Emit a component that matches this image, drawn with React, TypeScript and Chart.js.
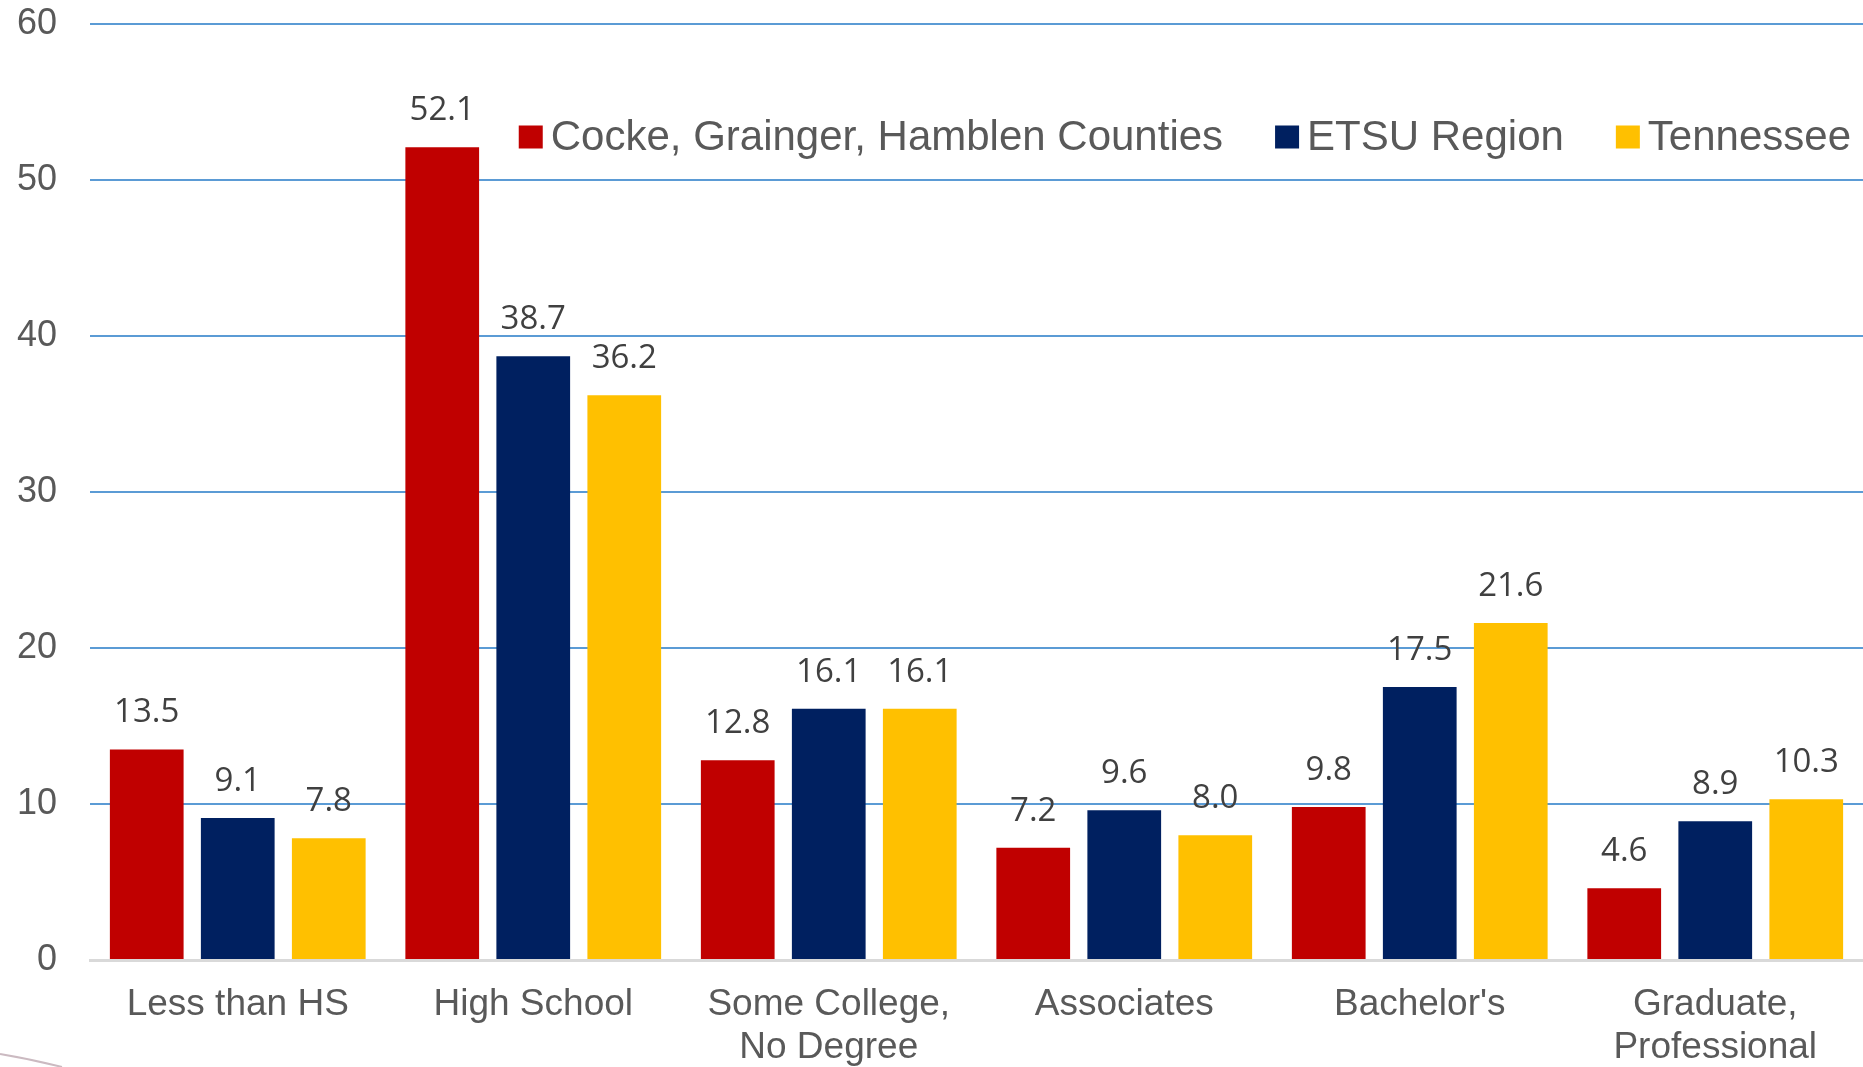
import React, { useEffect, useRef } from "react";
import { Chart, registerables } from "chart.js";

Chart.register(...registerables);

const categories: (string | string[])[] = [
  "Less than HS",
  "High School",
  ["Some College,", "No Degree"],
  "Associates",
  "Bachelor's",
  ["Graduate,", "Professional"],
];
const seriesNames = ["Cocke, Grainger, Hamblen Counties", "ETSU Region", "Tennessee"];
const cockeValues = [13.5, 52.1, 12.8, 7.2, 9.8, 4.6];
const etsuValues = [9.1, 38.7, 16.1, 9.6, 17.5, 8.9];
const tennesseeValues = [7.8, 36.2, 16.1, 8.0, 21.6, 10.3];
const seriesColors = ["#C00000", "#002060", "#FFC000"];
const yMin = 0;
const yMax = 60;
const yStep = 10;

const ARIAL = "'Liberation Sans', Arial, sans-serif";

const valueLabels = {
  id: "valueLabels",
  afterDatasetsDraw(chart: any) {
    const ctx = chart.ctx;
    ctx.save();
    ctx.font = "33px 'Open Sans', sans-serif";
    ctx.fillStyle = "#404040";
    ctx.textAlign = "center";
    ctx.textBaseline = "alphabetic";
    chart.data.datasets.forEach((ds: any, i: number) => {
      const meta = chart.getDatasetMeta(i);
      meta.data.forEach((el: any, j: number) => {
        ctx.fillText(Number(ds.data[j]).toFixed(1), el.x, el.y - 27);
      });
    });
    ctx.restore();
  },
};

const insideLegend = {
  id: "insideLegend",
  afterDraw(chart: any) {
    const ctx = chart.ctx;
    ctx.save();
    ctx.font = `42px ${ARIAL}`;
    const box = 24;
    const gapText = 8;
    const gapItem = 52;
    const ds = chart.data.datasets;
    const widths = ds.map((d: any) => ctx.measureText(d.label).width);
    const total =
      widths.reduce((a: number, w: number) => a + box + gapText + w, 0) + gapItem * (ds.length - 1);
    let x = chart.chartArea.right - 12 - total;
    const cy = 137;
    ctx.textBaseline = "middle";
    ctx.textAlign = "left";
    ds.forEach((d: any, i: number) => {
      ctx.fillStyle = d.backgroundColor;
      ctx.fillRect(x, cy - 11.5, box, 23);
      ctx.fillStyle = "#595959";
      ctx.fillText(d.label, x + box + gapText, cy + 1);
      x += box + gapText + widths[i] + gapItem;
    });
    // small decorative curve at bottom-left corner of the slide
    ctx.strokeStyle = "#cbbac1";
    ctx.lineWidth = 2;
    ctx.beginPath();
    ctx.moveTo(0, 1054);
    ctx.quadraticCurveTo(30, 1059, 62, 1067);
    ctx.stroke();
    ctx.restore();
  },
};

export default function App() {
  const ref = useRef<HTMLCanvasElement | null>(null);

  useEffect(() => {
    if (!ref.current) return;
    const chart = new Chart(ref.current, {
      type: "bar",
      data: {
        labels: categories as any,
        datasets: [cockeValues, etsuValues, tennesseeValues].map((vals, i) => ({
          label: seriesNames[i],
          data: vals,
          backgroundColor: seriesColors[i],
          borderWidth: 0,
          categoryPercentage: 0.924,
          barPercentage: 0.81,
        })),
      },
      options: {
        animation: false,
        responsive: true,
        maintainAspectRatio: false,
        layout: { padding: { top: 24, right: 0, left: 0, bottom: 0 } },
        plugins: {
          legend: { display: false },
          tooltip: { enabled: false },
        },
        scales: {
          x: {
            grid: { display: false, drawTicks: false },
            border: { display: true, color: "#D9D9D9", width: 3 },
            ticks: {
              color: "#595959",
              font: { family: ARIAL, size: 37, lineHeight: 1.16 },
              padding: 23,
              maxRotation: 0,
              autoSkip: false,
            },
            afterFit(scale: any) {
              scale.height = 107;
            },
          },
          y: {
            min: yMin,
            max: yMax,
            grid: {
              drawTicks: false,
              lineWidth: 2,
              color: (c: any) => (c.tick && c.tick.value === 0 ? "rgba(0,0,0,0)" : "#5B9BD5"),
            },
            border: { display: false },
            ticks: {
              stepSize: yStep,
              color: "#595959",
              font: { family: ARIAL, size: 36 },
              padding: 33,
            },
            afterFit(scale: any) {
              scale.width = 90;
              scale.paddingTop = 0;
              scale.paddingBottom = 0;
            },
          },
        },
      },
      plugins: [valueLabels, insideLegend],
    });
    return () => chart.destroy();
  }, []);

  return (
    <div style={{ position: "absolute", left: 0, top: 0, width: "1863px", height: "1067px", background: "#fff" }}>
      <canvas ref={ref} />
    </div>
  );
}
